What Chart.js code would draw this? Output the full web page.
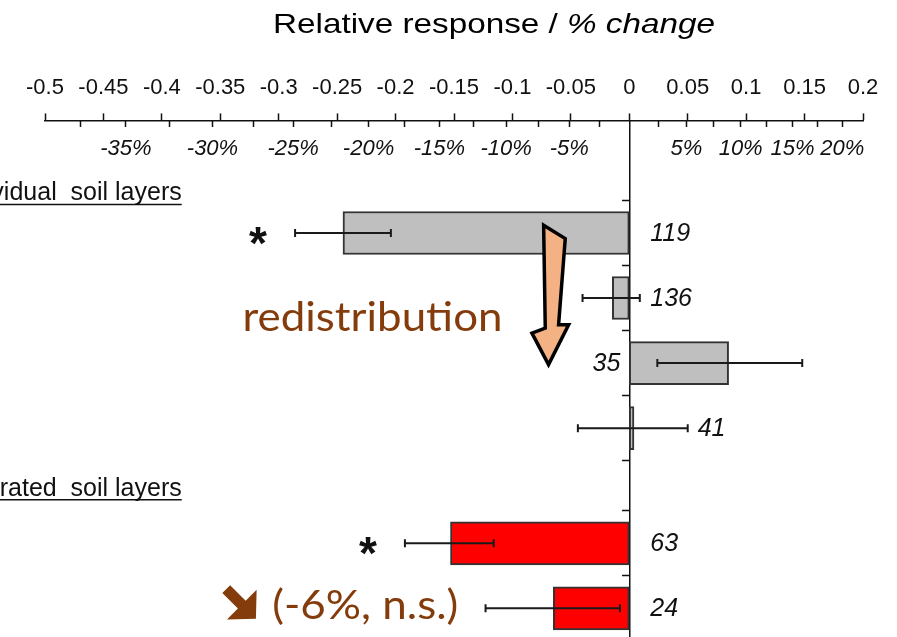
<!DOCTYPE html>
<html>
<head>
<meta charset="utf-8">
<script src="https://cdn.jsdelivr.net/npm/chart.js@4.4.0/dist/chart.umd.min.js"></script>
<style>
  html, body { margin: 0; padding: 0; background: #fff; }
  #wrap { width: 897px; height: 637px; }
</style>
</head>
<body>
<div id="wrap"><canvas id="myChart"></canvas></div>
<script>
// values (log response ratio, 95% CI, n)
const counts = [119, 136, 35, 41, 63, 24];
const rowPos = [1, 2, 3, 4, 5.77, 6.77];   // row index on the y scale, 2nd group sits a bit lower
const means = [-0.245, -0.0145, 0.085, 0.004, -0.153, -0.065];
const errLow = [-0.286, -0.040, 0.024, -0.044, -0.192, -0.123];
const errHigh = [-0.204, 0.009, 0.148, 0.050, -0.116, -0.008];
const signif = ['*', '', '', '', '*', ''];
const groupOf = [0, 0, 0, 0, 1, 1];
const groupNames = ['Individual  soil layers', 'Integrated  soil layers'];
const groupRow = [0.5, 5.04];

// tick labels
const pctTicks = [-37.5, -35, -32.5, -30, -27.5, -25, -22.5, -20, -17.5, -15, -12.5, -10, -7.5, -5, -2.5,
                  2.5, 5, 7.5, 10, 12.5, 15, 17.5, 20];
const pctLabels = [-35, -30, -25, -20, -15, -10, -5, 5, 10, 15, 20];

const xMin = -0.5, xMax = 0.2;
const yTop = -0.73, yBottom = 7.21;

const barColors = ['#bfbfbf', '#ff0000'];
const brown = '#843c0c';

Chart.defaults.font.family = "'Liberation Sans', Arial, sans-serif";
Chart.defaults.color = '#111';

// heavy south-east arrow like the slide's wingding
function heavyArrow(ctx, tx, ty) {
  const d = [Math.SQRT1_2, Math.SQRT1_2], n = [Math.SQRT1_2, -Math.SQRT1_2];
  const head = 20, headHalf = 21, shaft = 22, shaftHalf = 5.5;
  const bx = tx - head * d[0], by = ty - head * d[1];
  const ex = bx - shaft * d[0], ey = by - shaft * d[1];
  ctx.beginPath();
  ctx.moveTo(tx, ty);
  ctx.lineTo(bx + headHalf * n[0], by + headHalf * n[1]);
  ctx.lineTo(bx + shaftHalf * n[0], by + shaftHalf * n[1]);
  ctx.lineTo(ex + shaftHalf * n[0], ey + shaftHalf * n[1]);
  ctx.lineTo(ex - shaftHalf * n[0], ey - shaftHalf * n[1]);
  ctx.lineTo(bx - shaftHalf * n[0], by - shaftHalf * n[1]);
  ctx.lineTo(bx - headHalf * n[0], by - headHalf * n[1]);
  ctx.closePath();
  ctx.fill();
}

// error bars, n, asterisks and the slide annotations
const extras = {
  id: 'extras',
  afterDatasetsDraw(chart) {
    const {ctx, scales: {x, y}} = chart;
    const zero = x.getPixelForValue(0);
    ctx.save();

    for (let i = 0; i < means.length; i++) {
      const py = y.getPixelForValue(rowPos[i]);
      const x1 = x.getPixelForValue(errLow[i]);
      const x2 = x.getPixelForValue(errHigh[i]);

      ctx.strokeStyle = '#1a1a1a';
      ctx.lineWidth = 2;
      ctx.beginPath();
      ctx.moveTo(x1, py); ctx.lineTo(x2, py);
      ctx.moveTo(x1, py - 4); ctx.lineTo(x1, py + 4);
      ctx.moveTo(x2, py - 4); ctx.lineTo(x2, py + 4);
      ctx.stroke();

      // sample size
      ctx.fillStyle = '#111';
      ctx.font = "italic 25px 'Liberation Sans', Arial, sans-serif";
      ctx.textBaseline = 'middle';
      if (errLow[i] >= 0) {
        ctx.textAlign = 'right';
        ctx.fillText(String(counts[i]), zero - 9, py + 1);
      } else {
        ctx.textAlign = 'left';
        ctx.fillText(String(counts[i]), Math.max(zero + 21, x2 + 10), py + 1);
      }

      if (signif[i]) {
        ctx.font = "bold 46px 'Liberation Sans', Arial, sans-serif";
        ctx.textAlign = 'center';
        ctx.textBaseline = 'alphabetic';
        ctx.fillText(signif[i], x1 - 37, py + 26);
      }
    }

    // group headings (cut at the left edge like the slide)
    ctx.font = "25px 'Liberation Sans', Arial, sans-serif";
    ctx.textAlign = 'right';
    ctx.textBaseline = 'alphabetic';
    ctx.fillStyle = '#111';
    groupNames.forEach((name, g) => {
      const right = x.getPixelForValue(-0.383);
      const base = y.getPixelForValue(groupRow[g]);
      const w = ctx.measureText(name).width;
      ctx.fillText(name, right, base);
      ctx.lineWidth = 1.5;
      ctx.strokeStyle = '#111';
      ctx.beginPath();
      ctx.moveTo(right - w, base + 4);
      ctx.lineTo(right, base + 4);
      ctx.stroke();
    });

    // redistribution arrow
    const arrow = [[-0.0733, 0.882], [-0.0548, 1.087], [-0.0605, 2.411], [-0.0519, 2.411],
                   [-0.0691, 3.023], [-0.0833, 2.540], [-0.0719, 2.463]];
    ctx.beginPath();
    arrow.forEach(([vx, vy], k) => {
      const px = x.getPixelForValue(vx), py = y.getPixelForValue(vy);
      if (k === 0) ctx.moveTo(px, py); else ctx.lineTo(px, py);
    });
    ctx.closePath();
    ctx.fillStyle = '#f4b183';
    ctx.fill();
    ctx.lineJoin = 'miter';
    ctx.lineWidth = 3.5;
    ctx.strokeStyle = '#000';
    ctx.stroke();

    // brown slide text
    ctx.fillStyle = brown;
    ctx.textAlign = 'left';
    ctx.textBaseline = 'alphabetic';
    ctx.font = "40px Lato, 'Open Sans', sans-serif";
    let t = 'redistribution';
    let sx = 260 / ctx.measureText(t).width;
    ctx.save();
    ctx.translate(x.getPixelForValue(-0.331), y.getPixelForValue(2.514));
    ctx.scale(sx, 1);
    ctx.fillText(t, 0, 0);
    ctx.restore();

    t = '(-6%, n.s.)';
    sx = 186 / ctx.measureText(t).width;
    ctx.save();
    ctx.translate(x.getPixelForValue(-0.3055), y.getPixelForValue(6.93));
    ctx.scale(sx, 1);
    ctx.fillText(t, 0, 0);
    ctx.restore();

    heavyArrow(ctx, x.getPixelForValue(-0.3195), y.getPixelForValue(6.93));

    ctx.restore();
  },
  afterDraw(chart) {
    // axis title, upright + italic part
    const {ctx} = chart;
    const a = 'Relative response / ', b = '% change';
    ctx.save();
    ctx.fillStyle = '#000';
    ctx.textBaseline = 'alphabetic';
    ctx.textAlign = 'left';
    ctx.font = "28px 'Liberation Sans', Arial, sans-serif";
    const wa = ctx.measureText(a).width;
    ctx.font = "italic 28px 'Liberation Sans', Arial, sans-serif";
    const wb = ctx.measureText(b).width;
    const sx = 442 / (wa + wb);
    ctx.translate(494 - 221, 33);
    ctx.scale(sx, 1);
    ctx.font = "28px 'Liberation Sans', Arial, sans-serif";
    ctx.fillText(a, 0, 0);
    ctx.font = "italic 28px 'Liberation Sans', Arial, sans-serif";
    ctx.fillText(b, wa, 0);
    ctx.restore();
  }
};

const data = {
  datasets: [{
    data: means.map((m, i) => ({x: m, y: rowPos[i]})),
    backgroundColor: groupOf.map(g => barColors[g]),
    borderColor: '#333',
    borderWidth: 2,
    borderSkipped: false,
    barThickness: 43
  }]
};

const config = {
  type: 'bar',
  data,
  options: {
    indexAxis: 'y',
    responsive: true,
    maintainAspectRatio: false,
    animation: false,
    layout: { padding: { top: 63, left: 45, right: 34, bottom: 0 } },
    plugins: {
      legend: { display: false },
      tooltip: { enabled: false }
    },
    scales: {
      x: {
        type: 'linear',
        position: 'top',
        min: xMin,
        max: xMax,
        ticks: {
          stepSize: 0.05, padding: 12, autoSkip: false, maxRotation: 0,
          font: { size: 22 }, color: '#111',
          callback: v => String(Math.round(v * 100) / 100)
        },
        grid: { drawOnChartArea: false, tickLength: 7, tickColor: '#111', tickWidth: 1.5 },
        border: { color: '#111', width: 1.5 }
      },
      xp: {
        type: 'linear',
        axis: 'x',
        position: { y: yTop },
        min: xMin,
        max: xMax,
        afterBuildTicks: s => { s.ticks = pctTicks.map(p => ({ value: Math.log(1 + p / 100) })); },
        ticks: {
          autoSkip: false,
          maxRotation: 0,
          padding: 8,
          color: '#111',
          font: { size: 22, style: 'italic' },
          callback: (v, i) => pctLabels.includes(pctTicks[i]) ? pctTicks[i] + '%' : ''
        },
        grid: { drawOnChartArea: false, tickLength: 7, tickColor: '#111', tickWidth: 1.5 },
        border: { display: false }
      },
      y: {
        type: 'linear',
        position: { x: 0 },
        reverse: true,
        offset: false,
        min: yTop,
        max: yBottom,
        afterBuildTicks: s => {
          const edges = [];
          rowPos.forEach(r => { edges.push(r - 0.5, r + 0.5); });
          s.ticks = [...new Set(edges.map(v => +v.toFixed(2)))]
            .filter(v => v > yTop && v < yBottom)
            .sort((p, q) => p - q)
            .map(v => ({ value: v }));
        },
        ticks: { display: false },
        grid: { offset: false, drawOnChartArea: false, tickLength: 7, tickColor: '#111', tickWidth: 1.5 },
        border: { color: '#111', width: 1.5 }
      }
    }
  },
  plugins: [extras]
};

const myChart = new Chart(document.getElementById('myChart'), config);
</script>
</body>
</html>
